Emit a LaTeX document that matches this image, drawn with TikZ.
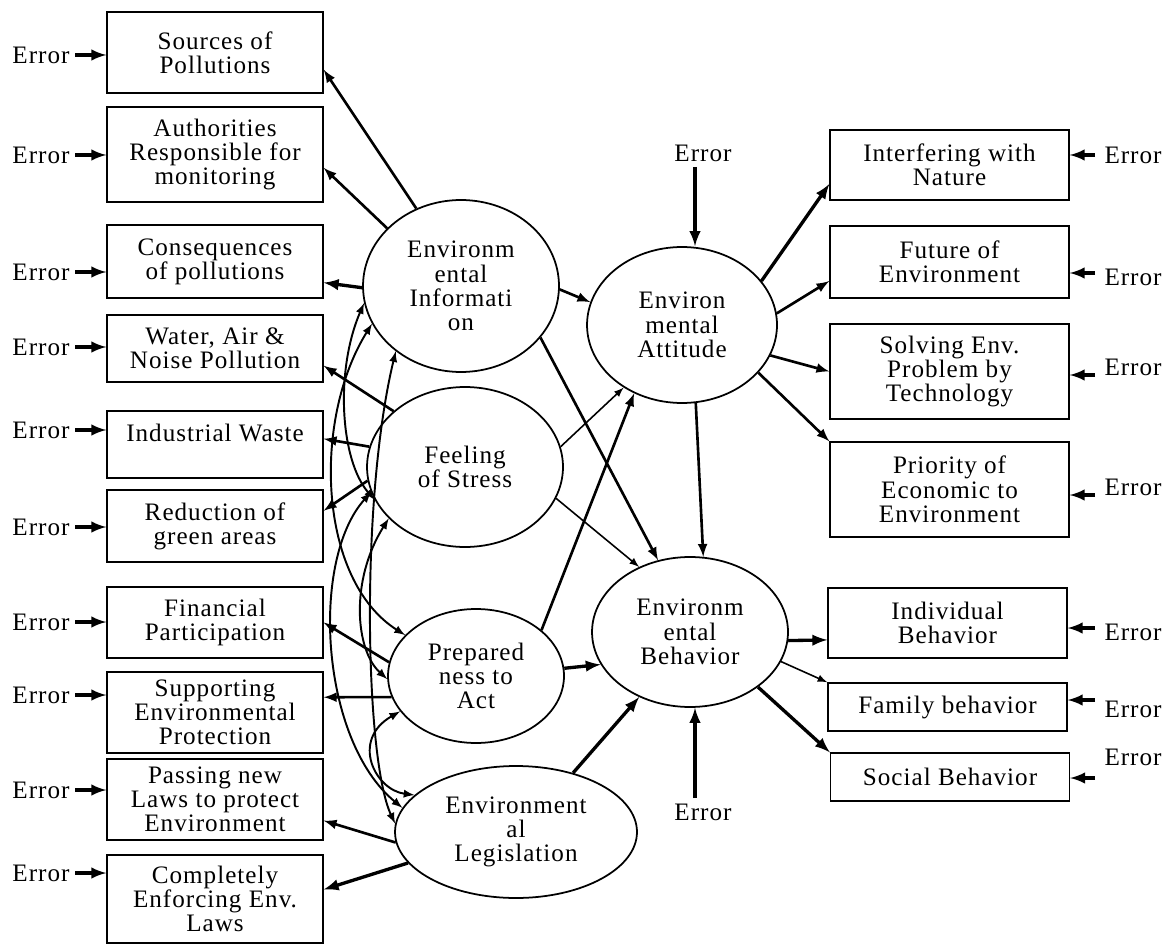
\documentclass[tikz,border=0pt]{standalone}
\usepackage{fontspec}
\setmainfont{Liberation Serif}[LetterSpace=4]
\usetikzlibrary{arrows,shapes.geometric}

\begin{document}
\begin{tikzpicture}[x=0.02cm, y=-0.02cm,
  every node/.style={font=\fontsize{14.3}{13.8}\selectfont},
  obs/.style={draw, line width=0.8pt, align=center, inner sep=1pt},
  lat/.style={draw, ellipse, line width=1pt, align=center, inner sep=1pt},
  err/.style={inner sep=3pt},
  link/.style={->, >=latex, line width=1.5pt},
  linkthick/.style={link, line width=1.9pt},
  linkthin/.style={link, line width=0.9pt},
  errlink/.style={->, >=latex, line width=1.9pt},
  cov/.style={<->, >=latex, line width=1.1pt}]
\useasboundingbox (0,0) rectangle (1168,945);

% observed variables, left
\node[obs, minimum width=4.32cm, minimum height=1.62cm] (b1) at (215,52.5) {Sources of\\Pollutions};
\node[obs, minimum width=4.32cm, minimum height=1.9cm] (b2) at (215,154.5) {Authorities\\Responsible for\\monitoring};
\node[obs, minimum width=4.32cm, minimum height=1.46cm] (b3) at (215,261.5) {Consequences\\of pollutions};
\node[obs, minimum width=4.32cm, minimum height=1.34cm] (b4) at (215,348.5) {Water, Air \&\\Noise Pollution};
\node[obs, minimum width=4.32cm, minimum height=1.34cm] (b5) at (215,444.5) {Industrial Waste\\ \mbox{}};
\node[obs, minimum width=4.32cm, minimum height=1.44cm] (b6) at (215,526) {Reduction of\\green areas};
\node[obs, minimum width=4.32cm, minimum height=1.42cm] (b7) at (215,622.5) {Financial\\Participation};
\node[obs, minimum width=4.32cm, minimum height=1.62cm] (b8) at (215,712.5) {Supporting\\Environmental\\Protection};
\node[obs, minimum width=4.32cm, minimum height=1.62cm] (b9) at (215,799.5) {Passing new\\Laws to protect\\Environment};
\node[obs, minimum width=4.32cm, minimum height=1.76cm] (b10) at (215,899) {Completely\\Enforcing Env.\\Laws};

% observed variables, right
\node[obs, minimum width=4.78cm, minimum height=1.4cm] (r1) at (949.5,165) {Interfering with\\Nature};
\node[obs, minimum width=4.78cm, minimum height=1.44cm] (r2) at (949.5,262) {Future of\\Environment};
\node[obs, minimum width=4.78cm, minimum height=1.9cm] (r3) at (949.5,371.5) {Solving Env.\\Problem by\\Technology};
\node[obs, minimum width=4.78cm, minimum height=1.9cm] (r4) at (949.5,489.5) {Priority of\\Economic to\\Environment};
\node[obs, minimum width=4.78cm, minimum height=1.4cm] (r5) at (947.5,623) {Individual\\Behavior};
\node[obs, minimum width=4.78cm, minimum height=0.96cm] (r6) at (947.5,707) {Family behavior};
\node[obs, minimum width=4.78cm, minimum height=0.96cm] (r7) at (950,777) {Social Behavior};

% latent variables
\node[lat, minimum width=3.92cm, minimum height=3.44cm] (ei) at (461,286) {Environm\\ental\\Informati\\on};
\node[lat, minimum width=3.92cm, minimum height=3.2cm] (fs) at (465,467) {Feeling\\of Stress};
\node[lat, minimum width=3.52cm, minimum height=2.68cm] (pa) at (476,676) {Prepared\\ness to\\Act};
\node[lat, minimum width=4.84cm, minimum height=2.64cm] (el) at (516,832) {Environment\\al\\Legislation};
\node[lat, minimum width=3.8cm, minimum height=3.12cm] (att) at (682,325) {Environ\\mental\\Attitude};
\node[lat, minimum width=3.92cm, minimum height=3cm] (beh) at (690,632) {Environm\\ental\\Behavior};

% error terms
\node[err] (e1) at (41,55) {Error};
\node[err] (e2) at (41,155) {Error};
\node[err] (e3) at (41,272) {Error};
\node[err] (e4) at (41,347) {Error};
\node[err] (e5) at (41,430) {Error};
\node[err] (e6) at (41,527) {Error};
\node[err] (e7) at (41,622) {Error};
\node[err] (e8) at (41,695) {Error};
\node[err] (e9) at (41,790) {Error};
\node[err] (e10) at (41,873) {Error};
\node[err] (er1) at (1133,155) {Error};
\node[err] (er2) at (1133,277) {Error};
\node[err] (er3) at (1133,367) {Error};
\node[err] (er4) at (1133,487) {Error};
\node[err] (er5) at (1133,632) {Error};
\node[err] (er6) at (1133,709) {Error};
\node[err] (er7) at (1133,757) {Error};
\node[err] (ea) at (703,153) {Error};
\node[err] (eb) at (703,812) {Error};
\coordinate (t1) at (1095,155);
\coordinate (t2) at (1095,273);
\coordinate (t3) at (1095,375);
\coordinate (t4) at (1095,495);
\coordinate (t5) at (1095,628);
\coordinate (t6) at (1095,700);
\coordinate (t7) at (1095,778);

\path[errlink] (e1) edge (e1 -| b1.west);
\path[errlink] (e2) edge (e2 -| b2.west);
\path[errlink] (e3) edge (e3 -| b3.west);
\path[errlink] (e4) edge (e4 -| b4.west);
\path[errlink] (e5) edge (e5 -| b5.west);
\path[errlink] (e6) edge (e6 -| b6.west);
\path[errlink] (e7) edge (e7 -| b7.west);
\path[errlink] (e8) edge (e8 -| b8.west);
\path[errlink] (e9) edge (e9 -| b9.west);
\path[errlink] (e10) edge (e10 -| b10.west);
\path[errlink] (t1) edge (t1 -| r1.east);
\path[errlink] (t2) edge (t2 -| r2.east);
\path[errlink] (t3) edge (t3 -| r3.east);
\path[errlink] (t4) edge (t4 -| r4.east);
\path[errlink] (t5) edge (t5 -| r5.east);
\path[errlink] (t6) edge (t6 -| r6.east);
\path[errlink] (t7) edge (t7 -| r7.east);
\path[linkthick] ([xshift=-0.16cm]ea.south) edge ([xshift=-0.16cm]ea.south |- att.north);
\path[linkthick] ([xshift=-0.16cm]eb.north) edge ([xshift=-0.16cm]eb.north |- beh.south);

% measurement paths
\path[link] (ei.120) edge (b1.-9);
\path[link] (ei.142) edge (b2.-7);
\path[linkthick] (ei.181) edge (b3.-11);
\path[link] (fs.142) edge (b4.-9);
\path[link] (fs.168) edge (b5.3);
\path[link] (fs.188) edge (b6.8);
\path[link] (pa.171) edge (b7.east);
\path[link] (pa.194) edge (b8.8);
\path[link] (el.185) edge (b9.-11);
\path[linkthick] (el.196) edge (b10.5);
\path[linkthick] (att.29) edge (r1.189);
\path[link] (att.7) edge (r2.189);
\path[link] (att.-19) edge (r3.west);
\path[link] (att.-32) edge (r4.north west);
\path[linkthick] (beh.-5) edge (r5.188);
\path[linkthin] (beh.-18) edge (r6.north west);
\path[linkthick] (beh.-39) edge (r7.north west);

% structural paths
\path[link] (ei.358) edge (att.166);
\path[link] (ei.-33) edge (beh.114);
\path[linkthin] (fs.12) edge (att.227);
\path[linkthin] (fs.-19) edge (beh.128);
\path[link] (pa.35) edge (att.235);
\path[linkthick] (pa.5) edge (beh.200);
\path[linkthick] (el.46) edge (beh.232);
\path[link] (att.-80) edge (beh.80);

% covariances
\draw[cov] (ei.190) .. controls (335,370) and (340,460) .. (fs.200);
\draw[cov] (ei.203) .. controls (312,420) and (318,580) .. (pa.150);
\draw[cov] (ei.225) .. controls (360,500) and (365,760) .. (el.176);
\draw[cov] (fs.214) .. controls (350,580) and (355,650) .. (pa.182);
\draw[cov] (fs.195) .. controls (310,560) and (320,740) .. (el.168);
\draw[cov] (pa.205) .. controls (350,740) and (375,790) .. (el.160);
\end{tikzpicture}
\end{document}
